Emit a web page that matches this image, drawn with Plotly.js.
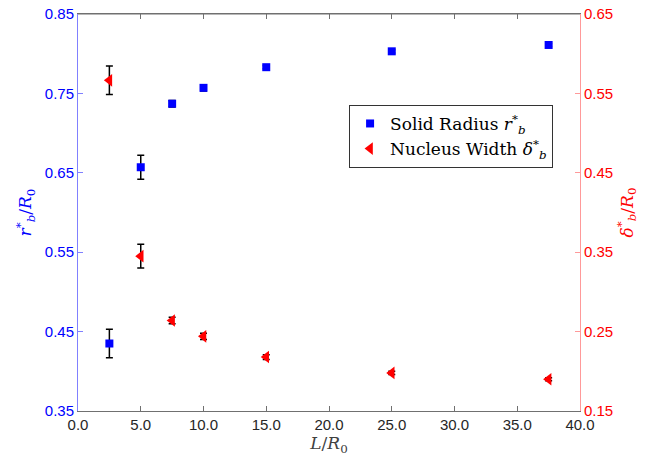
<!DOCTYPE html>
<html><head><meta charset="utf-8">
<script src="https://cdn.plot.ly/plotly-3.0.1.min.js"></script>
<style>body{margin:0;background:#fff}#chart{width:662px;height:459px}</style>
</head><body><div id="chart"></div>
<script>
const L = [2.5, 5, 7.5, 10, 15, 25, 37.5];
const radius = [0.435, 0.657, 0.737, 0.757, 0.783, 0.803, 0.811];
const radiusErr = [0.018, 0.015, 0.004, 0.004, 0.002, 0.002, 0.002];
const width = [0.5665, 0.345, 0.264, 0.244, 0.218, 0.198, 0.190];
const widthErr = [0.018, 0.015, 0.004, 0.004, 0.003, 0.002, 0.002];
const xTicks = [0, 5, 10, 15, 20, 25, 30, 35, 40];
const yTicks = [0.35, 0.45, 0.55, 0.65, 0.75, 0.85];
const y2Ticks = [0.15, 0.25, 0.35, 0.45, 0.55, 0.65];

const serif = 'DejaVu Serif';
const sans = 'Liberation Sans';

const traces = [
  {x: L, y: radius, type: 'scatter', mode: 'markers', name: 'Solid Radius <i>r</i><sup>*</sup><sub><i>b</i></sub>',
   marker: {symbol: 'square', color: '#0000ff', size: 8},
   error_y: {type: 'data', array: radiusErr, visible: true, color: '#000', thickness: 1.5, width: 3.5},
   xaxis: 'x', yaxis: 'y'},
  {x: L, y: width, type: 'scatter', mode: 'markers', name: 'Nucleus Width <i>δ</i><sup>*</sup><sub><i>b</i></sub>',
   marker: {symbol: 'triangle-left', color: '#ff0000', size: 11},
   error_y: {type: 'data', array: widthErr, visible: true, color: '#000', thickness: 1.5, width: 3.5},
   xaxis: 'x2', yaxis: 'y2'}
];

const layout = {
  width: 662, height: 459,
  margin: {l: 78, r: 82, t: 14, b: 48},
  paper_bgcolor: '#fff', plot_bgcolor: '#fff',
  showlegend: true,
  legend: {x: 0.54, y: 0.771, xanchor: 'left', yanchor: 'top', bordercolor: '#333', borderwidth: 1,
           bgcolor: '#fff', font: {family: serif, size: 17, color: '#000'}, tracegroupgap: 0,
           itemwidth: 30},
  shapes: [{type: 'line', xref: 'paper', yref: 'paper', x0: 0, x1: 1, y0: 1, y1: 1,
            line: {color: '#707070', width: 1}, layer: 'above'}],
  xaxis: {range: [0, 40], tickvals: xTicks, ticktext: xTicks.map(v => v.toFixed(1)),
          showgrid: false, zeroline: false, showline: true, linecolor: '#707070', linewidth: 1,
          ticks: 'inside', ticklen: 5, tickcolor: '#707070',
          tickfont: {family: sans, size: 15, color: '#262626'},
          title: {text: '<i>L</i>/<i>R</i><sub>0</sub>', font: {family: serif, size: 17, color: '#404040'}, standoff: 4}},
  xaxis2: {range: [0, 40], overlaying: 'x', side: 'top', tickvals: xTicks,
           showticklabels: false, showgrid: false, zeroline: false, showline: true,
           linecolor: '#707070', linewidth: 1, ticks: 'inside', ticklen: 5, tickcolor: '#707070'},
  yaxis: {range: [0.35, 0.85], tickvals: yTicks, ticktext: yTicks.map(v => v.toFixed(2)),
          showgrid: false, zeroline: false, showline: true, linecolor: '#8080ff', linewidth: 1,
          ticks: 'inside', ticklen: 5, tickcolor: '#8080ff',
          tickfont: {family: sans, size: 15, color: '#0000ff'},
          title: {text: '<i>r</i><sup>*</sup><sub><i>b</i></sub>/<i>R</i><sub>0</sub>', font: {family: serif, size: 17, color: '#0000ff'}, standoff: 8}},
  yaxis2: {range: [0.15, 0.65], tickvals: y2Ticks, ticktext: y2Ticks.map(v => v.toFixed(2)),
           overlaying: 'y', side: 'right',
           showgrid: false, zeroline: false, showline: true, linecolor: '#ff9999', linewidth: 1,
           ticks: 'inside', ticklen: 5, tickcolor: '#ff9999',
           tickfont: {family: sans, size: 15, color: '#ff0000'},
           title: {text: '<i>δ</i><sup>*</sup><sub><i>b</i></sub>/<i>R</i><sub>0</sub>', font: {family: serif, size: 17, color: '#ff0000'}, standoff: 8}}
};

Plotly.newPlot('chart', traces, layout, {displayModeBar: false, staticPlot: true});
</script>
</body></html>
